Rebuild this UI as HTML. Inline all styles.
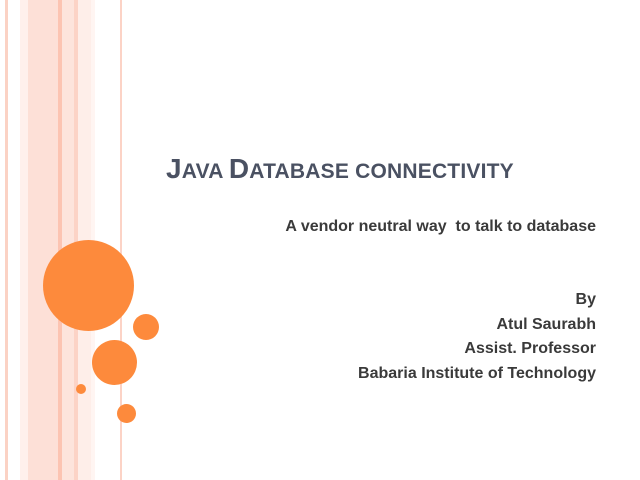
<!DOCTYPE html><html><head><style>
body{margin:0;width:640px;height:480px;position:relative;background:#fff;overflow:hidden;font-family:"Liberation Sans",sans-serif}
.s{position:absolute;top:0;height:480px}
.c{position:absolute;border-radius:50%;background:#fd8a3c}
.t{position:absolute;white-space:nowrap;font-weight:bold;color:#3a3a3a}
</style></head><body>
<div class="s" style="left:5px;width:3px;background:#fbd2c4"></div>
<div class="s" style="left:20px;width:8px;background:#fff0ec"></div>
<div class="s" style="left:28px;width:30px;background:#fde0d7"></div>
<div class="s" style="left:58px;width:4px;background:#fcc4b2"></div>
<div class="s" style="left:62px;width:12px;background:#fde4dc"></div>
<div class="s" style="left:74px;width:4px;background:#fcd3c6"></div>
<div class="s" style="left:78px;width:13px;background:#feeee9"></div>
<div class="s" style="left:91px;width:4px;background:#fff5f2"></div>
<div class="s" style="left:120px;width:2px;background:#fcd3c6"></div>
<div class="c" style="left:43px;top:240px;width:91px;height:91px"></div>
<div class="c" style="left:133px;top:314px;width:26px;height:26px"></div>
<div class="c" style="left:92px;top:340px;width:45px;height:45px"></div>
<div class="c" style="left:76px;top:384px;width:10px;height:10px"></div>
<div class="c" style="left:117px;top:404px;width:19px;height:19px"></div>
<div class="t" style="left:166px;top:153px;color:#4a5162;font-size:21px;letter-spacing:0.2px">
<span style="font-size:28px">J</span>AVA <span style="font-size:28px">D</span>ATABASE CONNECTIVITY</div>
<div class="t" style="right:44px;top:218px;font-size:16px">A vendor neutral way&nbsp; to talk to database</div>
<div class="t" style="right:44px;top:291px;font-size:16px">By</div>
<div class="t" style="right:44px;top:316px;font-size:16px">Atul Saurabh</div>
<div class="t" style="right:44px;top:340px;font-size:16px">Assist. Professor</div>
<div class="t" style="right:44px;top:365px;font-size:16px">Babaria Institute of Technology</div>
</body></html>
